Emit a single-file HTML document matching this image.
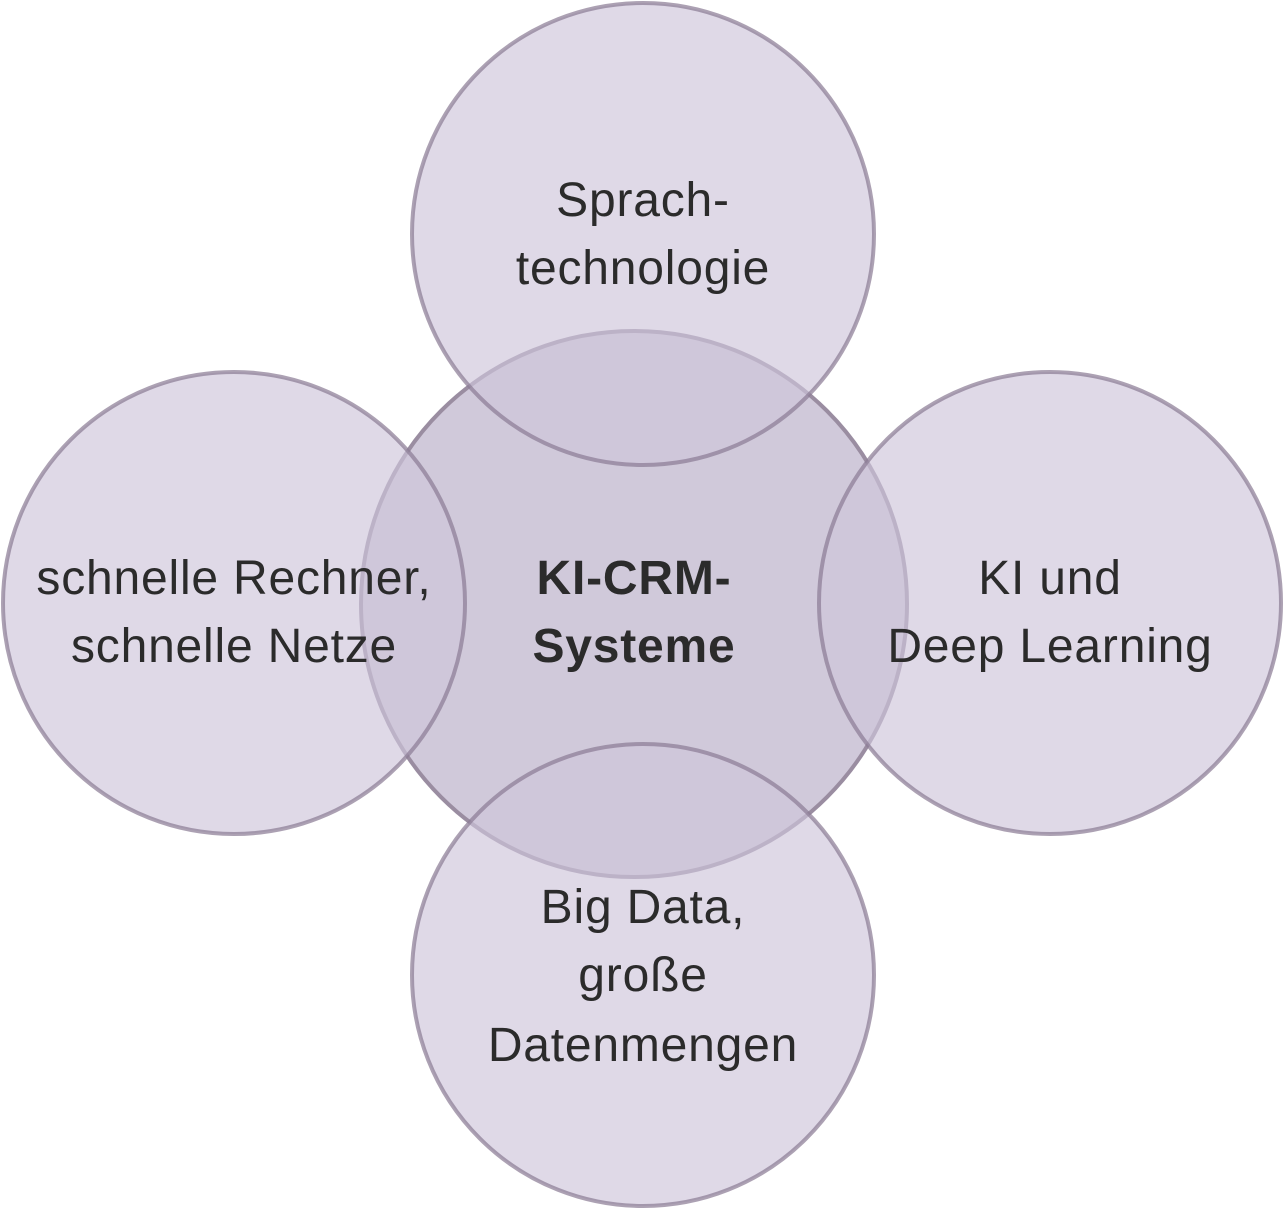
<!DOCTYPE html>
<html><head><meta charset="utf-8"><style>
html,body{margin:0;padding:0;background:#fff;}
svg{display:block;}
text{font-family:"Liberation Sans",sans-serif;font-size:48px;letter-spacing:0.8px;fill:#2b2b2b;text-anchor:middle;}
</style></head><body>
<svg width="1285" height="1210" viewBox="0 0 1285 1210">
<circle cx="634" cy="604" r="273" fill="#d0c9da" stroke="#9a8da1" stroke-width="4"/>
<g fill="rgba(206,197,218,0.66)" stroke="rgba(140,125,150,0.72)" stroke-width="4">
<circle cx="643" cy="234" r="231"/>
<circle cx="234" cy="603" r="231"/>
<circle cx="1050" cy="603" r="231"/>
<circle cx="643" cy="975" r="231"/>
</g>
<text x="643" y="216">Sprach-</text>
<text x="643" y="284">technologie</text>
<text x="234" y="594">schnelle Rechner,</text>
<text x="234" y="662">schnelle Netze</text>
<text x="1050" y="594">KI und</text>
<text x="1050" y="662">Deep Learning</text>
<text x="634" y="594" font-weight="bold">KI-CRM-</text>
<text x="634" y="662" font-weight="bold">Systeme</text>
<text x="643" y="923">Big Data,</text>
<text x="643" y="991">große</text>
<text x="643" y="1061">Datenmengen</text>
</svg>
</body></html>
